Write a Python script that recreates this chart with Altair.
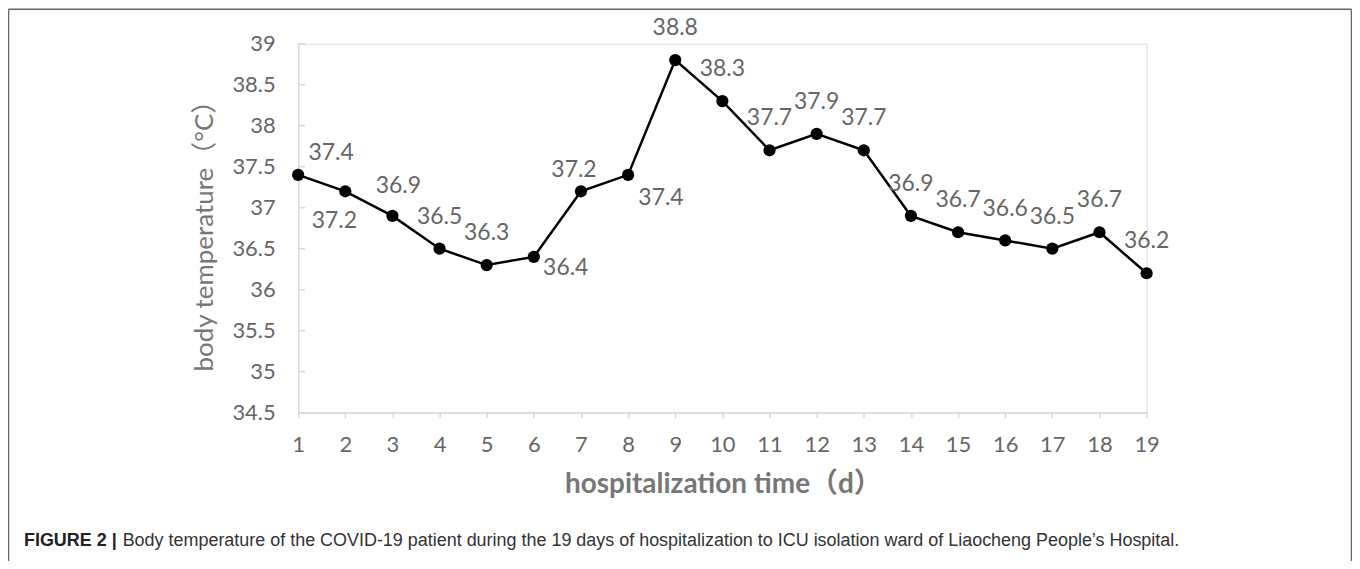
import altair as alt
import pandas as pd

# ---- data ----
days = list(range(1, 20))
temps = [37.4, 37.2, 36.9, 36.5, 36.3, 36.4, 37.2, 37.4, 38.8, 38.3,
         37.7, 37.9, 37.7, 36.9, 36.7, 36.6, 36.5, 36.7, 36.2]
y_ticks = [34.5, 35, 35.5, 36, 36.5, 37, 37.5, 38, 38.5, 39]
x_title = "hospitalization time（d）"
y_title = "body temperature（°C）"
caption_bold = "FIGURE 2 |"
caption_text = ("Body temperature of the COVID-19 patient during the 19 days of "
                "hospitalization to ICU isolation ward of Liaocheng People\u2019s Hospital.")

# ---- layout / style (label placement offsets in px) ----
LABEL_OFFSETS = {1: (33, -22), 2: (-11, 30), 3: (6, -30), 6: (32, 11),
                 7: (-7, -21), 8: (33, 23)}
DEFAULT_OFFSET = (0, -32)
FONT = "Lato, 'Noto Sans CJK SC', sans-serif"
GRAY = "#666666"
AXIS_GRAY = "#d9d9d9"

df = pd.DataFrame({"day": days, "temp": temps})
ticks_df = pd.DataFrame({"t": y_ticks})
one = pd.DataFrame({"k": [0]})

xs = alt.Scale(domain=[1, 19], nice=False, zero=False)
ys = alt.Scale(domain=[34.5, 39], nice=False, zero=False)

X = alt.X("day:Q", scale=xs, axis=alt.Axis(
    values=days, format="d", title=x_title, grid=False, labelFlush=False,
    domainColor=AXIS_GRAY, domainWidth=1.5, tickColor=AXIS_GRAY, tickWidth=1.5,
    tickSize=5, labelPadding=34, labelBaseline="alphabetic",
    labelFont=FONT, labelFontSize=22, labelColor=GRAY,
    titleFont=FONT, titleFontSize=28, titleFontWeight="bold", titleColor="#777777",
    titleX=426, titleY=80, titleBaseline="alphabetic", titleAlign="center"))
Y = alt.Y("temp:Q", scale=ys, axis=alt.Axis(
    values=y_ticks, format=".1~f", title=y_title, grid=False, labelFlush=False,
    domainColor=AXIS_GRAY, domainWidth=1.5, ticks=False, tickSize=0,
    labelPadding=23, labelFont=FONT, labelFontSize=22, labelColor=GRAY,
    titleFont=FONT, titleFontSize=26, titleFontWeight="normal", titleColor="#777777",
    titleAngle=270, titleX=-94, titleY=186, titleBaseline="middle", titleAlign="center"))

base = alt.Chart(df)
line = base.mark_line(color="black", strokeWidth=2.5).encode(x=X, y=Y)
points = base.mark_point(filled=True, color="black", size=150, opacity=1, shape="circle").encode(x="day:Q", y="temp:Q")

ytick_rules = alt.Chart(ticks_df).mark_rule(color=AXIS_GRAY, strokeWidth=1.5).encode(
    y="t:Q", x=alt.value(0), x2=alt.value(7))

label_layers = []
groups = {}
for d in days:
    off = LABEL_OFFSETS.get(d, DEFAULT_OFFSET)
    groups.setdefault(off, []).append(d)
for (dx, dy), ds in groups.items():
    label_layers.append(
        base.transform_filter(alt.FieldOneOfPredicate(field="day", oneOf=ds))
        .mark_text(font=FONT, fontSize=23, color=GRAY, dx=dx, dy=dy,
                   align="center", baseline="middle")
        .encode(x="day:Q", y="temp:Q", text=alt.Text("temp:Q", format=".1f")))

frame_col = "#666666"
frame_left = alt.Chart(one).mark_rule(color=frame_col, strokeWidth=1.5).encode(
    x=alt.value(-290.5), y=alt.value(-34.5), y2=alt.value(560))
frame_right = alt.Chart(one).mark_rule(color=frame_col, strokeWidth=1.5).encode(
    x=alt.value(1056.5), y=alt.value(-34.5), y2=alt.value(560))
frame_top = alt.Chart(one).mark_rule(color=frame_col, strokeWidth=1.5).encode(
    x=alt.value(-290.5), x2=alt.value(1056.5), y=alt.value(-34.5))

cap1 = alt.Chart(one).mark_text(font="Liberation Sans", fontSize=18, fontWeight="bold",
                                color="#222222", align="left", baseline="alphabetic").encode(
    x=alt.value(-275), y=alt.value(504), text=alt.value(caption_bold))
cap2 = alt.Chart(one).mark_text(font="Liberation Sans", fontSize=18, color="#333333",
                                align="left", baseline="alphabetic").encode(
    x=alt.value(-176), y=alt.value(504), text=alt.value(caption_text))

chart = alt.layer(
    ytick_rules, line, points, *label_layers,
    frame_left, frame_right, frame_top, cap1, cap2
).properties(
    width=851, height=370,
    autosize=alt.AutoSizeParams(type="none"),
    padding={"left": 291, "top": 35, "right": 206, "bottom": 148},
).configure_view(stroke=None).configure(background="white")

chart.save("out.html", embed_options={"renderer": "svg", "actions": False})
